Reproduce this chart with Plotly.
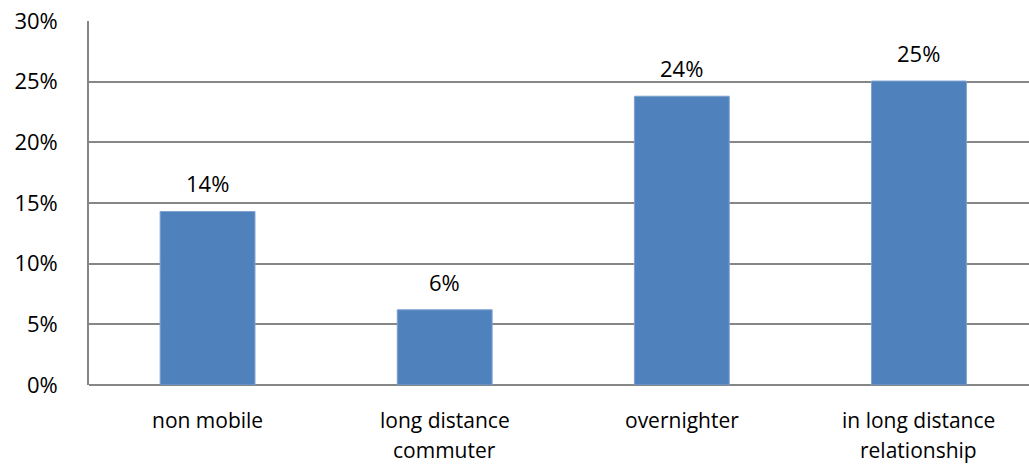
import plotly.graph_objects as go

# Share of respondents by mobility type
categories = ["non mobile", "long distance\ncommuter", "overnighter", "in long distance\nrelationship"]
shares = [14.3, 6.2, 23.8, 25.05]
y_ticks = [0, 5, 10, 15, 20, 25, 30]
y_tick_labels = [f"{t}%" for t in y_ticks]

FONT = "Open Sans"
FS = 22
BAR = "#4F81BD"
GRID = "#868686"

x_pos = list(range(len(categories)))

fig = go.Figure(
    go.Bar(
        x=x_pos,
        y=shares,
        width=0.4,
        marker=dict(color=BAR, line=dict(color="#7FA1CF", width=1)),
        hoverinfo="skip",
    )
)

# value labels above bars
for xi, v in zip(x_pos, shares):
    fig.add_annotation(
        x=xi, y=v, text=f"{round(v)}%", showarrow=False,
        yanchor="bottom", yshift=11,
        font=dict(family=FONT, size=FS, color="#000000"),
    )

# category labels, one annotation per line
for xi, name in zip(x_pos, categories):
    for li, line in enumerate(name.split("\n")):
        fig.add_annotation(
            x=xi, y=0, xref="x", yref="y", text=line, showarrow=False,
            yanchor="middle", yshift=-35 - 30 * li,
            font=dict(family=FONT, size=21, color="#000000"),
        )

fig.update_layout(
    width=1029,
    height=465,
    margin=dict(l=89, r=0, t=21, b=80),
    paper_bgcolor="white",
    plot_bgcolor="white",
    showlegend=False,
    font=dict(family=FONT, size=FS, color="#000000"),
    xaxis=dict(
        range=[-0.5, 3.464],
        showticklabels=False,
        showgrid=False,
        zeroline=False,
        showline=False,
        fixedrange=True,
    ),
    yaxis=dict(
        range=[0, 30],
        tickvals=y_ticks,
        ticktext=y_tick_labels,
        showgrid=True,
        gridcolor=GRID,
        gridwidth=1.6,
        zeroline=True,
        zerolinecolor=GRID,
        zerolinewidth=1.6,
        showline=True,
        linecolor=GRID,
        linewidth=1.6,
        ticks="",
        ticklabelstandoff=25,
        fixedrange=True,
    ),
)

fig.write_html("out.html")
